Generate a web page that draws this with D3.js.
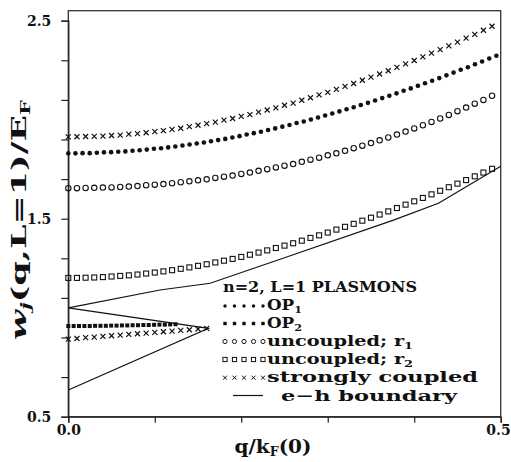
<!DOCTYPE html>
<html><head><meta charset="utf-8">
<script src="https://cdn.jsdelivr.net/npm/d3@7"></script>
<style>html,body{margin:0;padding:0;background:#fff;}svg{display:block;}</style>
</head><body>
<svg id="chart" width="511" height="462"></svg>
<script>
// ---- data ----
const xTicks = [0, 0.1, 0.2, 0.3, 0.4, 0.5];
const xTickLabels = ["0.0", "", "", "", "", "0.5"];
const yTicks = [0.5, 0.7, 0.9, 1.1, 1.3, 1.5, 1.7, 1.9, 2.1, 2.3, 2.5];
const yTickLabels = ["0.5", "", "", "", "", "1.5", "", "", "", "", "2.5"];

const q_strongUpper = d3.range(50).map(i => i * 0.01);
const w_strongUpper = [1.913,1.914,1.915,1.916,1.917,1.920,1.922,1.927,1.930,1.934,1.940,1.945,1.951,1.957,1.965,1.972,1.980,1.988,1.998,2.006,2.017,2.026,2.038,2.049,2.060,2.073,2.084,2.098,2.111,2.125,2.138,2.153,2.168,2.183,2.199,2.215,2.231,2.247,2.264,2.282,2.299,2.317,2.336,2.354,2.373,2.392,2.412,2.431,2.452,2.472];

const q_op1 = d3.range(61).map(i => i * 0.00825);
const w_op1 = [1.830,1.830,1.831,1.831,1.833,1.835,1.836,1.838,1.840,1.843,1.846,1.849,1.853,1.856,1.860,1.865,1.870,1.875,1.880,1.885,1.891,1.897,1.903,1.910,1.917,1.925,1.932,1.939,1.948,1.956,1.965,1.973,1.983,1.991,2.001,2.011,2.021,2.031,2.042,2.053,2.063,2.074,2.085,2.097,2.109,2.121,2.133,2.146,2.158,2.171,2.184,2.197,2.210,2.224,2.238,2.252,2.265,2.280,2.294,2.309,2.323];

const q_r1 = d3.range(50).map(i => i * 0.01);
const w_r1 = [1.654,1.654,1.655,1.656,1.657,1.658,1.660,1.662,1.665,1.669,1.672,1.675,1.679,1.684,1.689,1.694,1.699,1.706,1.712,1.718,1.726,1.733,1.742,1.750,1.759,1.768,1.776,1.787,1.798,1.808,1.820,1.830,1.843,1.856,1.869,1.882,1.896,1.910,1.925,1.940,1.956,1.972,1.989,2.006,2.024,2.043,2.061,2.081,2.100,2.121];

const q_r2 = d3.range(50).map(i => i * 0.01);
const w_r2 = [1.201,1.201,1.202,1.203,1.205,1.208,1.211,1.214,1.218,1.223,1.228,1.234,1.240,1.247,1.254,1.262,1.270,1.279,1.288,1.297,1.307,1.318,1.329,1.340,1.352,1.364,1.376,1.389,1.403,1.416,1.430,1.445,1.459,1.474,1.490,1.505,1.521,1.537,1.554,1.571,1.588,1.605,1.623,1.641,1.659,1.677,1.695,1.714,1.733,1.752];

const q_op2 = d3.range(21).map(i => i * 0.0062);
const w_op2 = [0.958,0.958,0.958,0.958,0.958,0.959,0.959,0.959,0.960,0.960,0.961,0.961,0.962,0.962,0.963,0.963,0.964,0.965,0.965,0.966,0.967];

const q_strongLower = d3.range(17).map(i => i * 0.01);
const w_strongLower = [0.892,0.895,0.899,0.902,0.906,0.909,0.912,0.916,0.919,0.922,0.926,0.929,0.932,0.936,0.939,0.943,0.946];

const q_eh = [0, 0.162, 0, 0.106, 0.164, 0.25, 0.376, 0.428, 0.5];
const w_eh = [0.635, 0.946, 1.050, 1.140, 1.174, 1.303, 1.493, 1.578, 1.765];

// ---- layout ----
const svg = d3.select("#chart");
const FONT = "'DejaVu Serif', serif";
const mLeft = 68.3, mRight = 500.7, mTop = 10.7, mBottom = 416.7;
const x = d3.scaleLinear().domain([0, 0.5]).range([mLeft, mRight]);
const y = d3.scaleLinear().domain([0.5, 2.5]).range([mBottom, 20.7]);
const ink = "#111";

// frame
svg.append("rect").attr("x", mLeft).attr("y", mTop).attr("width", mRight - mLeft).attr("height", mBottom - mTop)
  .attr("fill", "none").attr("stroke", "#333").attr("stroke-width", 1.3);

// axes
const xAxis = d3.axisBottom(x).tickValues(xTicks).tickSize(6).tickFormat((d, i) => xTickLabels[i]);
const gx = svg.append("g").attr("transform", `translate(0,${mBottom})`).call(xAxis);
const yAxis = d3.axisLeft(y).tickValues(yTicks).tickSize(7).tickFormat((d, i) => yTickLabels[i]);
const gy = svg.append("g").attr("transform", `translate(${mLeft},0)`).call(yAxis);
[gx, gy].forEach(g => {
  g.select(".domain").attr("stroke", "#222").attr("stroke-width", 1.3);
  g.selectAll(".tick line").attr("stroke", "#222").attr("stroke-width", 1.2);
  g.selectAll(".tick text").attr("font-family", FONT).attr("font-weight", "bold")
    .attr("font-size", 14).attr("fill", ink);
});
gx.selectAll(".tick text").attr("dy", null).attr("y", 18);
gx.selectAll(".tick text").filter((d, i) => i === xTicks.length - 1)
  .attr("text-anchor", "end").attr("x", 9.5);
gy.selectAll(".tick text").attr("x", -17).attr("dy", "0.35em");

// series
const plot = svg.append("g");
function pts(qs, ws) { return qs.map((q, i) => [q, ws[i]]).filter(d => d[1] !== undefined); }

// e-h boundary line
plot.append("path").datum(pts(q_eh, w_eh))
  .attr("d", d3.line().x(d => x(d[0])).y(d => y(d[1])))
  .attr("fill", "none").attr("stroke", ink).attr("stroke-width", 1.2);

function crosses(g, data, s) {
  g.selectAll(null).data(data).enter().append("path")
    .attr("d", d => `M${x(d[0]) - s},${y(d[1]) - s}L${x(d[0]) + s},${y(d[1]) + s}M${x(d[0]) - s},${y(d[1]) + s}L${x(d[0]) + s},${y(d[1]) - s}`)
    .attr("stroke", ink).attr("stroke-width", 1.2);
}
function dots(g, data, r) {
  g.selectAll(null).data(data).enter().append("circle")
    .attr("cx", d => x(d[0])).attr("cy", d => y(d[1])).attr("r", r).attr("fill", ink);
}
function rings(g, data, r) {
  g.selectAll(null).data(data).enter().append("circle")
    .attr("cx", d => x(d[0])).attr("cy", d => y(d[1])).attr("r", r)
    .attr("fill", "none").attr("stroke", ink).attr("stroke-width", 1.1);
}
function boxes(g, data, s, filled) {
  g.selectAll(null).data(data).enter().append("rect")
    .attr("x", d => x(d[0]) - s / 2).attr("y", d => y(d[1]) - s / 2).attr("width", s).attr("height", s)
    .attr("fill", filled ? ink : "none").attr("stroke", filled ? "none" : ink).attr("stroke-width", 1.1);
}

crosses(plot, pts(q_strongUpper, w_strongUpper), 2.5);
dots(plot, pts(q_op1, w_op1), 2.3);
rings(plot, pts(q_r1, w_r1), 2.7);
boxes(plot, pts(q_r2, w_r2), 5, false);
boxes(plot, pts(q_op2, w_op2), 4, true);
crosses(plot, pts(q_strongLower, w_strongLower), 2.5);

// ---- legend ----
const leg = svg.append("g").attr("font-family", FONT).attr("font-weight", "bold").attr("fill", ink);
leg.append("text").attr("x", 223).attr("y", 291.5).attr("font-size", 15)
  .attr("textLength", 194).attr("lengthAdjust", "spacingAndGlyphs").text("n=2, L=1  PLASMONS");

const symX = [225, 234.5, 244, 253.5, 263];
const rows = [
  {cy: 306, base: 310, kind: "dot", parts: [["OP"], ["1", true]], len: 35},
  {cy: 323.5, base: 328, kind: "fsq", parts: [["OP"], ["2", true]], len: 35},
  {cy: 341.5, base: 346, kind: "ring", parts: [["uncoupled; r"], ["1", true]], len: 146},
  {cy: 359.5, base: 364.3, kind: "sq", parts: [["uncoupled; r"], ["2", true]], len: 146},
  {cy: 377.7, base: 382.3, kind: "x", parts: [["strongly coupled"]], len: 211},
  {cy: 395.5, base: 400.5, kind: "line", parts: [["e\u2212h boundary"]], len: 176, tx: 281}
];
rows.forEach(r => {
  if (r.kind === "line") {
    leg.append("line").attr("x1", 233).attr("x2", 263).attr("y1", r.cy).attr("y2", r.cy)
      .attr("stroke", ink).attr("stroke-width", 1.2);
  } else {
    symX.forEach(sx => {
      if (r.kind === "dot") leg.append("circle").attr("cx", sx).attr("cy", r.cy).attr("r", 1.7);
      if (r.kind === "fsq") leg.append("rect").attr("x", sx - 1.7).attr("y", r.cy - 1.7).attr("width", 3.4).attr("height", 3.4);
      if (r.kind === "ring") leg.append("circle").attr("cx", sx).attr("cy", r.cy).attr("r", 2.1).attr("fill", "none").attr("stroke", ink).attr("stroke-width", 1);
      if (r.kind === "sq") leg.append("rect").attr("x", sx - 2.1).attr("y", r.cy - 2.1).attr("width", 4.2).attr("height", 4.2).attr("fill", "none").attr("stroke", ink).attr("stroke-width", 1);
      if (r.kind === "x") leg.append("path").attr("d", `M${sx - 2},${r.cy - 2}L${sx + 2},${r.cy + 2}M${sx - 2},${r.cy + 2}L${sx + 2},${r.cy - 2}`).attr("stroke", ink).attr("stroke-width", 1);
    });
  }
  const t = leg.append("text").attr("x", r.tx || 267).attr("y", r.base).attr("font-size", 15)
    .attr("textLength", r.len).attr("lengthAdjust", "spacingAndGlyphs");
  r.parts.forEach(p => {
    if (p[1]) t.append("tspan").attr("font-size", 10).attr("dy", 3).text(p[0]);
    else t.append("tspan").text(p[0]);
  });
});

// ---- axis titles ----
const xt = svg.append("text").attr("x", 273).attr("y", 453).attr("text-anchor", "middle")
  .attr("font-family", FONT).attr("font-weight", "bold").attr("font-size", 19).attr("fill", ink)
  .attr("textLength", 77).attr("lengthAdjust", "spacingAndGlyphs");
xt.append("tspan").text("q/k");
xt.append("tspan").attr("font-size", 12).attr("dy", 3).text("F");
xt.append("tspan").attr("dy", -3).text("(0)");

const yt = svg.append("text").attr("transform", "translate(26,220) rotate(-90)").attr("text-anchor", "middle")
  .attr("font-family", FONT).attr("font-weight", "bold").attr("font-size", 20).attr("fill", ink)
  .attr("textLength", 240).attr("lengthAdjust", "spacingAndGlyphs");
yt.append("tspan").attr("font-style", "italic").text("w");
yt.append("tspan").attr("font-size", 12).attr("dy", 4).attr("font-style", "italic").text("j");
yt.append("tspan").attr("dy", -4).text("(q,L=1)/E");
yt.append("tspan").attr("font-size", 12).attr("dy", 4).text("F");
</script>
</body></html>
